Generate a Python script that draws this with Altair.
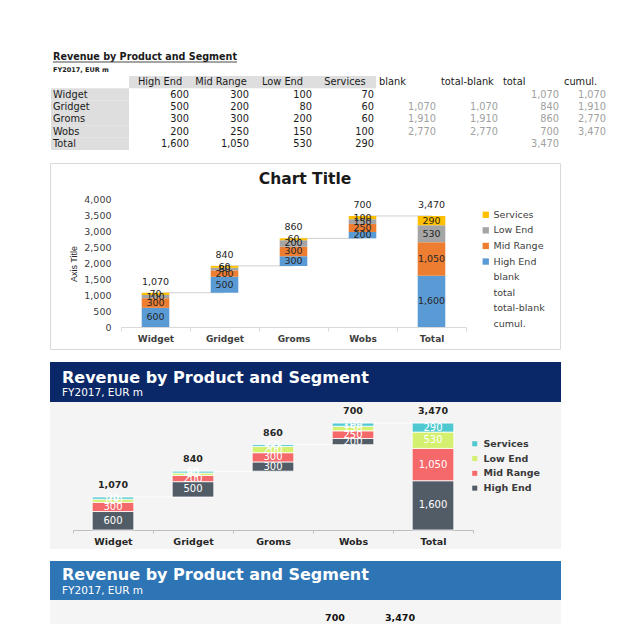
import itertools
import altair as alt
import pandas as pd

# ---------------- data ----------------
products = ["Widget", "Gridget", "Groms", "Wobs"]
segments = ["High End", "Mid Range", "Low End", "Services"]
high_end = [600, 500, 300, 200]
mid_range = [300, 200, 300, 250]
low_end = [100, 80, 200, 150]
services = [70, 60, 60, 100]
total_name = "Total"
helper_cols = ["blank", "total-blank", "total", "cumul."]
legend_helpers = ["blank", "total", "total-blank", "cumul."]
title_text = "Revenue by Product and Segment"
subtitle_text = "FY2017, EUR m"
excel_title = "Chart Title"
excel_axis_title = "Axis Title"

FONT = "DejaVu Sans"

seg_values = dict(zip(segments, [high_end, mid_range, low_end, services]))
seg_totals = [sum(seg_values[s]) for s in segments]
prod_totals = [sum(seg_values[s][i] for s in segments) for i in range(len(products))]
cumul = list(itertools.accumulate(prod_totals))
grand = cumul[-1]
cats = products + [total_name]


def fmt(v):
    return f"{v:,}"


rows = []
for i, p in enumerate(products):
    base = cumul[i] - prod_totals[i]
    for s in segments:
        v = seg_values[s][i]
        rows.append({"cat": p, "idx": i, "seg": s, "v": v, "y0": base, "y1": base + v, "label": fmt(v)})
        base += v
base = 0
for s, v in zip(segments, seg_totals):
    rows.append({"cat": total_name, "idx": len(products), "seg": s, "v": v,
                 "y0": base, "y1": base + v, "label": fmt(v)})
    base += v
seg_df = pd.DataFrame(rows)
seg_df["ymid"] = (seg_df.y0 + seg_df.y1) / 2

top_df = pd.DataFrame({"idx": list(range(len(cats))), "top": cumul + [grand],
                       "label": [fmt(v) for v in prod_totals + [grand]]})
conn_df = pd.DataFrame({"idx": list(range(len(products))),
                        "nxt": list(range(1, len(cats))), "level": cumul})

half_ticks = [i / 2 for i in range(-1, 10)]
label_expr = "datum.value % 1 == 0 ? " + str(cats) + "[datum.value] : ''"
tick_op = alt.condition("datum.value % 1 == 0", alt.value(0), alt.value(1))


def waterfall_layers(xs, ys, axx, axy, hw, color, bar_kw, seg_txt_kw, top_txt_kw, conn_kw, clip=False):
    conn = alt.Chart(conn_df).mark_rule(clip=clip, **conn_kw).encode(
        x=alt.X("idx:Q", scale=xs, axis=axx), x2="nxt:Q",
        y=alt.Y("level:Q", scale=ys, axis=axy))
    bars = alt.Chart(seg_df).transform_calculate(
        x0=f"datum.idx - {hw}", x1=f"datum.idx + {hw}"
    ).mark_bar(clip=clip, **bar_kw).encode(
        x=alt.X("x0:Q", scale=xs, axis=axx), x2="x1:Q",
        y=alt.Y("y0:Q", scale=ys, axis=axy), y2="y1:Q",
        color=color)
    segt = alt.Chart(seg_df).mark_text(clip=clip, **seg_txt_kw).encode(
        x=alt.X("idx:Q", scale=xs, axis=axx),
        y=alt.Y("ymid:Q", scale=ys, axis=axy), text="label:N")
    topt = alt.Chart(top_df).mark_text(clip=clip, **top_txt_kw).encode(
        x=alt.X("idx:Q", scale=xs, axis=axx),
        y=alt.Y("top:Q", scale=ys, axis=axy), text="label:N")
    return [conn, bars, segt, topt]


def text_layer(txt, x, y, **kw):
    return alt.Chart(pd.DataFrame({"t": [txt]})).mark_text(**kw).encode(
        x=alt.value(x), y=alt.value(y), text="t:N")


# ---------------- panel A: table ----------------
WA, HA = 561, 102
col_widths = [78, 62, 60, 63, 62, 62, 62, 61, 47]
edges = list(itertools.accumulate(col_widths, initial=1))
row_domain = ["_hdr"] + products + [total_name]

cells, bgs = [], []
for j, c in enumerate(segments + helper_cols):
    left, right = edges[j + 1], edges[j + 2]
    if c in segments:
        cells.append({"row": "_hdr", "x": (left + right) / 2, "t": c, "kind": "hdr_c"})
        bgs.append({"row": "_hdr", "xa": left, "xb": right})
    else:
        cells.append({"row": "_hdr", "x": left + 3, "t": c, "kind": "hdr_l"})
for r in products + [total_name]:
    cells.append({"row": r, "x": edges[0] + 2, "t": r, "kind": "hdr_l"})
    bgs.append({"row": r, "xa": edges[0], "xb": edges[1]})
for i, p in enumerate(products):
    for j, s in enumerate(segments):
        cells.append({"row": p, "x": edges[j + 2] - 2, "t": fmt(seg_values[s][i]), "kind": "num"})
    helper_vals = [cumul[i - 1] if i > 0 else None, cumul[i - 1] if i > 0 else None,
                   prod_totals[i], cumul[i]]
    for j, hv in enumerate(helper_vals):
        if hv is not None:
            cells.append({"row": p, "x": edges[j + 6] - 2, "t": fmt(hv), "kind": "gray"})
for j, v in enumerate(seg_totals):
    cells.append({"row": total_name, "x": edges[j + 2] - 2, "t": fmt(v), "kind": "num"})
cells.append({"row": total_name, "x": edges[8] - 2, "t": fmt(grand), "kind": "gray"})
cells_df = pd.DataFrame(cells)
bg_df = pd.DataFrame(bgs)

xA = alt.Scale(domain=[0, WA], range=[0, WA], nice=False, zero=False)
yA = alt.Scale(domain=row_domain, range=[28, 102], paddingInner=0, paddingOuter=0)

bgA = alt.Chart(bg_df).mark_rect(color="#dedede").encode(
    x=alt.X("xa:Q", scale=xA, axis=None), x2="xb:Q",
    y=alt.Y("row:N", scale=yA, axis=None))


def cell_layer(kind, align, color):
    return alt.Chart(cells_df).transform_filter(f"datum.kind == '{kind}'").mark_text(
        align=align, baseline="middle", font=FONT, fontSize=9.8, color=color).encode(
        x=alt.X("x:Q", scale=xA, axis=None),
        y=alt.Y("row:N", scale=yA, axis=None), text="t:N")


panelA = alt.layer(
    bgA,
    cell_layer("hdr_c", "center", "#1a1a1a"),
    cell_layer("hdr_l", "left", "#1a1a1a"),
    cell_layer("num", "right", "#1a1a1a"),
    cell_layer("gray", "right", "#a0a0a0"),
    text_layer(title_text, 3, 9, align="left", baseline="middle", font=FONT,
               fontSize=9.6, fontWeight="bold", color="#1a1a1a"),
    alt.Chart(pd.DataFrame({"t": [0]})).mark_rule(color="#1a1a1a", strokeWidth=0.8).encode(
        x=alt.value(3), x2=alt.value(187), y=alt.value(14)),
    text_layer(subtitle_text, 3, 22, align="left", baseline="middle", font=FONT,
               fontSize=6.5, fontWeight="bold", color="#1a1a1a"),
).properties(width=WA, height=HA,
             view=alt.ViewBackground(fill="white", stroke="transparent"))

# ---------------- panel B: default Excel chart ----------------
WB, HB = 510, 186
xB = alt.Scale(domain=[-0.5, 4.5], range=[71, 416], nice=False, zero=False)
yB = alt.Scale(domain=[0, 4000], range=[164, 36], nice=False)
axXB = alt.Axis(values=half_ticks, labelExpr=label_expr, title=None, grid=False,
                domainColor="#d9d9d9", tickColor="#d9d9d9", tickSize=4, tickOpacity=tick_op,
                labelFont=FONT, labelFontSize=9, labelFontWeight="bold", labelColor="#404040",
                labelPadding=3, offset=-22, labelOverlap=False, labelFlush=False)
axYB = alt.Axis(values=list(range(0, 4001, 500)), format=",.0f", title=None, grid=False,
                domain=False, ticks=False, labelFont=FONT, labelFontSize=9.5,
                labelColor="#404040", labelPadding=2, offset=-63)
colorB = alt.Color("seg:N", scale=alt.Scale(
    domain=["Services", "Low End", "Mid Range", "High End"] + legend_helpers,
    range=["#ffc000", "#a5a5a5", "#ed7d31", "#5b9bd5"] + ["transparent"] * 4),
    legend=alt.Legend(orient="none", legendX=431, legendY=47, title=None,
                      symbolType="square", symbolSize=40, symbolStrokeWidth=0,
                      labelFont=FONT, labelFontSize=9.5, labelColor="#404040",
                      rowPadding=4.6, labelOffset=3))
panelB = alt.layer(
    *waterfall_layers(
        xB, yB, axXB, axYB, 0.2, colorB, {},
        dict(font=FONT, fontSize=9.5, color="#262626", baseline="middle"),
        dict(font=FONT, fontSize=9.5, color="#262626", baseline="middle", dy=-11),
        dict(color="#d0d0d0", strokeWidth=1)),
    text_layer(excel_title, 255, 16, align="center", baseline="middle", font=FONT,
               fontSize=15.5, fontWeight="bold", color="#1a1a1a"),
    text_layer(excel_axis_title, 24, 101, align="center", baseline="middle",
               font="Liberation Sans", fontSize=9, angle=270, color="#262626"),
).properties(width=WB, height=HB,
             view=alt.ViewBackground(fill="white", stroke="#d9d9d9", strokeWidth=1))

# ---------------- panel C: styled chart ----------------
WC, HC = 511, 187
xC = alt.Scale(domain=[-0.5, 4.5], range=[23, 423], nice=False, zero=False)
yC = alt.Scale(domain=[0, 4000], range=[168, 44.8], nice=False)
axXC = alt.Axis(values=half_ticks, labelExpr=label_expr, title=None, grid=False,
                domainColor="#bfbfbf", tickColor="#bfbfbf", tickSize=3, tickOpacity=tick_op,
                labelFont=FONT, labelFontSize=9.5, labelFontWeight="bold", labelColor="#262626",
                labelPadding=3, offset=-19, labelOverlap=False, labelFlush=False)
colorC = alt.Color("seg:N", scale=alt.Scale(
    domain=["Services", "Low End", "Mid Range", "High End"],
    range=["#4fc8d0", "#d3f06f", "#f6696b", "#525c67"]),
    legend=alt.Legend(orient="none", legendX=420, legendY=77, title=None,
                      symbolType="square", symbolSize=25, symbolStrokeWidth=0,
                      labelFont=FONT, labelFontSize=9.5, labelFontWeight="bold",
                      labelColor="#3a3a3a", rowPadding=3.8, labelOffset=4))
header = pd.DataFrame({"t": [0]})
panelC = alt.layer(
    alt.Chart(header).mark_rect(color="#0a2868").encode(
        x=alt.value(0), x2=alt.value(WC), y=alt.value(0), y2=alt.value(40)),
    text_layer(title_text, 12, 16, align="left", baseline="middle", font=FONT,
               fontSize=16, fontWeight="bold", color="white"),
    text_layer(subtitle_text, 12, 31, align="left", baseline="middle", font=FONT,
               fontSize=10.5, color="white"),
    *waterfall_layers(
        xC, yC, axXC, None, 0.26, colorC, dict(stroke="white", strokeWidth=0.8),
        dict(font=FONT, fontSize=10, color="white", baseline="middle"),
        dict(font=FONT, fontSize=9.5, fontWeight="bold", color="#262626", baseline="middle", dy=-12),
        dict(color="white", strokeWidth=1)),
).properties(width=WC, height=HC,
             view=alt.ViewBackground(fill="#f4f4f4", stroke="transparent"))

# ---------------- panel D: second styled chart (cut off) ----------------
WD, HD = 511, 63
xD = alt.Scale(domain=[-0.5, 4.5], range=[57.5, 382.5], nice=False, zero=False)
yD = alt.Scale(domain=[0, 4000], range=[176, 52.8], nice=False)
colorD = alt.Color("seg:N", scale=alt.Scale(
    domain=["Services", "Low End", "Mid Range", "High End"],
    range=["#4fc8d0", "#d3f06f", "#f6696b", "#525c67"]), legend=None)
panelD = alt.layer(
    alt.Chart(header).mark_rect(color="#2e75b6").encode(
        x=alt.value(0), x2=alt.value(WD), y=alt.value(0), y2=alt.value(39)),
    text_layer(title_text, 12, 14, align="left", baseline="middle", font=FONT,
               fontSize=16, fontWeight="bold", color="white"),
    text_layer(subtitle_text, 12, 30, align="left", baseline="middle", font=FONT,
               fontSize=10.5, color="white"),
    *waterfall_layers(
        xD, yD, None, None, 0.26, colorD, dict(stroke="white", strokeWidth=0.8),
        dict(font=FONT, fontSize=10, color="white", baseline="middle"),
        dict(font=FONT, fontSize=9.5, fontWeight="bold", color="#111111", baseline="middle", dy=-12),
        dict(color="white", strokeWidth=1), clip=True),
).properties(width=WD, height=HD,
             view=alt.ViewBackground(fill="#f5f5f5", stroke="transparent"))

chart = alt.vconcat(panelA, panelB, panelC, panelD, spacing=12).resolve_scale(
    x="independent", y="independent", color="independent"
).properties(
    padding={"left": 41, "top": 40, "right": 4, "bottom": 4}
).configure(font=FONT).configure_view(strokeWidth=0)

chart.save("out.html", embed_options={"renderer": "svg", "actions": False})
